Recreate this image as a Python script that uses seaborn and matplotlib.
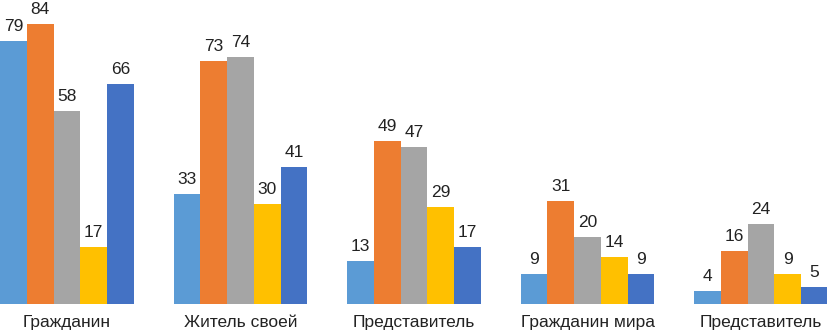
import pandas as pd
import matplotlib
matplotlib.use("Agg")
import matplotlib.pyplot as plt
import seaborn as sns

categories = ["Гражданин", "Житель своей", "Представитель", "Гражданин мира", "Представитель"]
series = ["Ряд 1", "Ряд 2", "Ряд 3", "Ряд 4", "Ряд 5"]
values = {
    "Ряд 1": [79, 33, 13, 9, 4],
    "Ряд 2": [84, 73, 49, 31, 16],
    "Ряд 3": [58, 74, 47, 20, 24],
    "Ряд 4": [17, 30, 29, 14, 9],
    "Ряд 5": [66, 41, 17, 9, 5],
}
colors = ["#5B9BD5", "#ED7D31", "#A5A5A5", "#FFC000", "#4472C4"]

rows = []
for s in series:
    for i, c in enumerate(categories):
        rows.append({"pos": i, "series": s, "value": values[s][i]})
df = pd.DataFrame(rows)

sns.set_style("white")
plt.rcParams["font.family"] = ["Liberation Sans", "DejaVu Sans"]

fig = plt.figure(figsize=(8.28, 3.33), dpi=100)
ax = fig.add_axes([0, 0.087, 1, 0.913])
sns.barplot(data=df, x="pos", y="value", hue="series", palette=colors,
            width=0.772, gap=0, dodge=True, legend=False, ax=ax,
            saturation=1, linewidth=0, edgecolor="none")

for cont in ax.containers:
    ax.bar_label(cont, padding=5, fontsize=12.5, color="#222222")

ax.set_xlim(-0.386, 4.386)
ax.set_ylim(0, 91.2)
ax.set_xticks(range(len(categories)))
ax.set_xticklabels(categories, fontsize=12.5, color="#222222")
ax.tick_params(axis="x", length=0, pad=8)
ax.set_yticks([])
ax.set_xlabel("")
ax.set_ylabel("")
sns.despine(ax=ax, left=True, bottom=True, top=True, right=True)

fig.savefig("out.png", dpi=100)
